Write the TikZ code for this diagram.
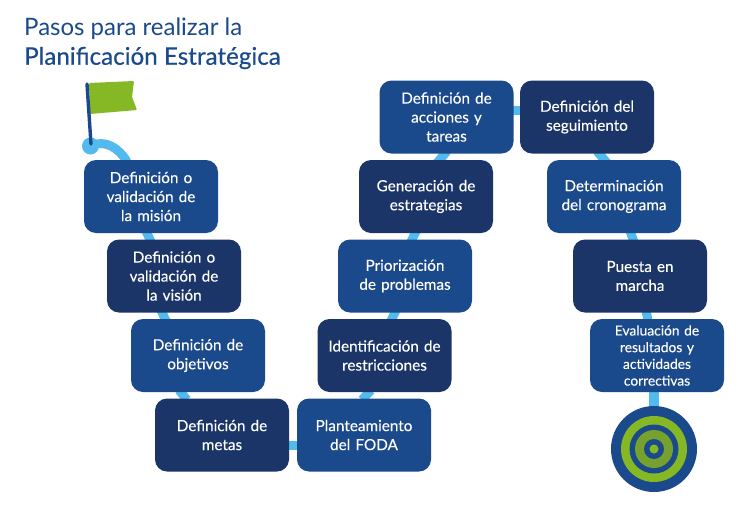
\documentclass[tikz,border=0pt]{standalone}
\usepackage{fontspec}
\setmainfont{Lato}
\usetikzlibrary{calc}
\definecolor{stepmid}{HTML}{1B4A8C}
\definecolor{stepdark}{HTML}{1B3569}
\definecolor{road}{HTML}{52BAEC}
\definecolor{flaggreen}{HTML}{86B826}
\definecolor{olive}{HTML}{76A12F}
\newfontfamily\boxfont[FakeBold=0.15]{Lato}
\newfontfamily\headfont[FakeBold=0.4]{Lato}
\tikzset{
  x=1pt,y=-1pt,
  stepbox/.style={rounded corners=12pt,minimum width=134pt,minimum height=73pt,inner sep=0pt,text=white,align=center,font=\boxfont\fontsize{15.3}{19}\selectfont,text width=132pt,execute at end node={\par\vskip-4pt}},
  midbox/.style={stepbox,fill=stepmid},
  darkbox/.style={stepbox,fill=stepdark},
  roadline/.style={draw=road,line width=9pt},
  titletext/.style={text=stepmid,anchor=west,inner sep=0pt},
  ring/.style={circle,inner sep=0pt,draw=none}
}
\begin{document}
\begin{tikzpicture}
\useasboundingbox (0,0) rectangle (750,517);
\fill[white] (0,0) rectangle (750,517);
\pgfdeclarelayer{top}\pgfsetlayers{main,top}
\begin{pgfonlayer}{top}
\node[titletext,font=\fontsize{24}{28}\selectfont] (t1) at (24,29) {Pasos para realizar la};
\node[titletext,font=\headfont\fontsize{24.2}{28}\selectfont] (t2) at (24,58) {Planificación Estratégica};
\node[midbox] (b1) at (151,196.5) {Definición o\\validación de\\la misión};
\node[darkbox] (b2) at (174,276) {Definición o\\validación de\\la visión};
\node[midbox] (b3) at (198,355.5) {Definición de\\objetivos};
\node[darkbox] (b4) at (222,435) {Definición de\\metas};
\node[midbox] (b5) at (364,435) {Planteamiento\\del FODA};
\node[darkbox] (b6) at (384.5,355.5) {Identificación de\\restricciones};
\node[midbox] (b7) at (405,276) {Priorización\\de problemas};
\node[darkbox] (b8) at (426,196.5) {Generación de\\estrategias};
\node[midbox] (b9) at (446.5,117) {Definición de\\acciones y\\tareas};
\node[darkbox] (b10) at (587,117) {Definición del\\seguimiento};
\node[midbox] (b11) at (614,196.5) {Determinación\\del cronograma};
\node[darkbox] (b12) at (640,276) {Puesta en\\marcha};
\node[midbox,font=\boxfont\fontsize{13.8}{16.7}\selectfont] (b13) at (657,355.5) {Evaluación de\\resultados y\\actividades\\correctivas};
\node[ring,fill=stepmid,minimum size=86pt] (target) at (654,449) {};
\node[ring,fill=flaggreen,minimum size=66pt] (r2) at (target) {};
\node[ring,fill=stepmid,minimum size=49pt] (r3) at (target) {};
\node[ring,fill=olive,minimum size=38pt] (r4) at (target) {};
\node[ring,fill=stepmid,minimum size=20pt] (r5) at (target) {};
\node[ring,fill=flaggreen,minimum size=9pt] (r6) at (target) {};
\end{pgfonlayer}
\coordinate (start) at (90.5,146);
\fill[road] (start) circle (8.5pt);
\draw[roadline] (start) .. controls (105,139) and (119,148) .. ($(b1.north)+(-24,2)$);
\draw[roadline] ($(b1.south)+(-5,-2)$) -- ($(b2.north)+(-23,2.5)$);
\draw[roadline] ($(b2.south)+(-13,-2.5)$) -- ($(b3.north)+(-32,2)$);
\draw[roadline] ($(b3.south)+(-19,-2)$) -- ($(b4.north)+(-35,1.5)$);
\draw[roadline] ($(b4.east)+(-2,10)$) -- ($(b5.west)+(2,10)$);
\draw[roadline] ($(b5.north)+(-2,1.5)$) -- ($(b6.south)+(-13.5,-2)$);
\draw[roadline] ($(b6.north)+(6.5,2)$) -- ($(b7.south)+(-9,-2.5)$);
\draw[roadline] ($(b7.north)+(6,2.5)$) -- ($(b8.south)+(-10,-2)$);
\draw[roadline] ($(b8.north)+(11,3)$) -- ($(b9.south)+(0.5,-2.5)$);
\draw[roadline] ($(b9.east)+(-2,-7)$) -- ($(b10.west)+(2,-7)$);
\draw[roadline] ($(b10.south)+(10,-2.5)$) -- ($(b11.north)+(-7,3)$);
\draw[roadline] ($(b11.south)+(16,-2)$) -- ($(b12.north)+(-6,2.5)$);
\draw[roadline] ($(b12.south)+(6,-2.5)$) -- ($(b13.north)+(-9,2)$);
\draw[roadline,line width=10.5pt] ($(b13.south)+(-3,-2)$) -- (target.north);
\begin{pgfonlayer}{top}
\fill[flaggreen,rounded corners=1pt] (89,83) -- (134,81) -- (132,97) -- (137,110) -- (90,114) -- cycle;
\draw[stepmid,line width=3.4pt,line cap=round] (87,84) -- (91,144);
\end{pgfonlayer}
\end{tikzpicture}
\end{document}
